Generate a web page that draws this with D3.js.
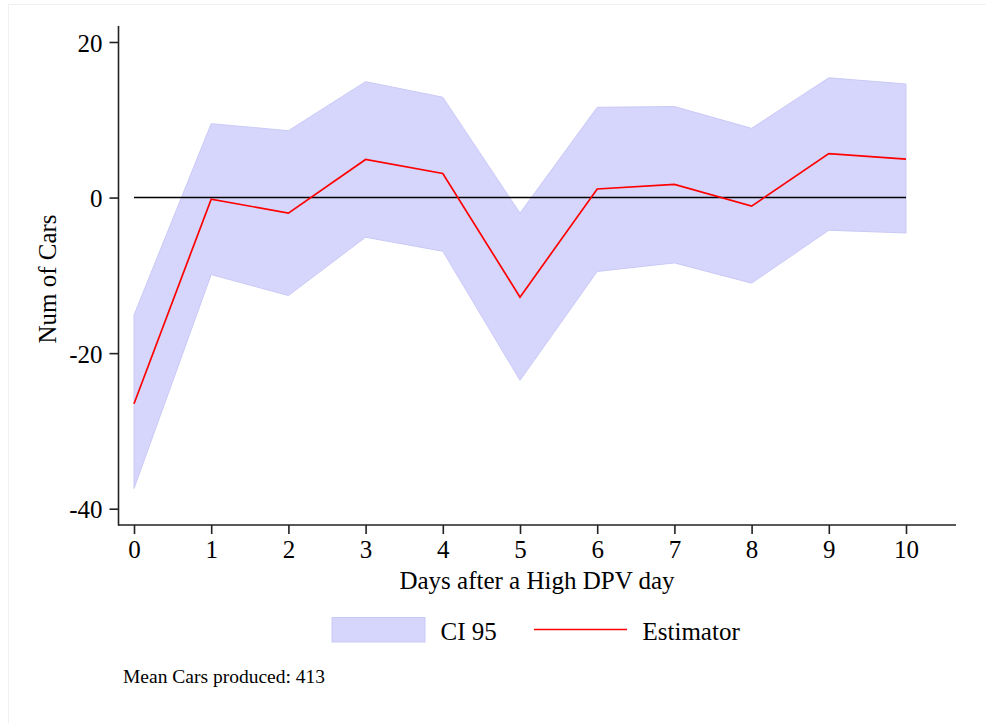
<!DOCTYPE html>
<html>
<head>
<meta charset="utf-8">
<script src="https://cdn.jsdelivr.net/npm/d3@7"></script>
<style>
  html, body { margin: 0; padding: 0; background: #fff; }
  svg text { font-family: "Liberation Serif", "Times New Roman", serif; fill: #000; }
</style>
</head>
<body>
<svg id="chart" width="986" height="723"></svg>
<script>
// Days after a high-DPV day
const days = [0, 1, 2, 3, 4, 5, 6, 7, 8, 9, 10];
// Point estimate and 95% confidence bounds (number of cars)
const estimator = [-26.5, -0.2, -2.0, 4.9, 3.1, -12.8, 1.1, 1.7, -1.1, 5.65, 4.95];
const ciUpper   = [-15.1, 9.5, 8.6, 14.9, 12.9, -2.0, 11.6, 11.7, 8.9, 15.4, 14.6];
const ciLower   = [-37.4, -9.9, -12.6, -5.1, -6.9, -23.5, -9.5, -8.4, -11.0, -4.2, -4.55];
const yTicks = [-40, -20, 0, 20];
const legendLabels = ["CI 95", "Estimator"];
const noteText = "Mean Cars produced: 413";

const svg = d3.select("#chart");
const fillColor = "#d6d6fc";
const edgeColor = "#c9c9f7";

// integer labels with a plain hyphen for negatives
const intLabel = d => String(Math.round(d));

// faint outer frame
svg.append("rect")
  .attr("x", 8.5).attr("y", 4.5).attr("width", 990).attr("height", 730)
  .attr("fill", "none").attr("stroke", "#f1f1f1").attr("stroke-width", 1);

const x = d3.scaleLinear().domain([0, 10]).range([134, 906]);
const y = d3.scaleLinear().domain([-40, 20]).range([508.7, 42]);

const rows = days.map((d, i) => ({ d, est: estimator[i], lo: ciLower[i], hi: ciUpper[i] }));

// confidence band
svg.append("path")
  .datum(rows)
  .attr("d", d3.area().x(r => x(r.d)).y0(r => y(r.lo)).y1(r => y(r.hi)))
  .attr("fill", fillColor)
  .attr("stroke", edgeColor)
  .attr("stroke-width", 1);

// zero reference line
svg.append("line")
  .attr("x1", x(0)).attr("x2", x(10))
  .attr("y1", y(0)).attr("y2", y(0))
  .attr("stroke", "#000").attr("stroke-width", 1.6);

// estimator line
svg.append("path")
  .datum(rows)
  .attr("d", d3.line().x(r => x(r.d)).y(r => y(r.est)))
  .attr("fill", "none")
  .attr("stroke", "#ff0000")
  .attr("stroke-width", 1.7)
  .attr("stroke-linejoin", "miter");

// y axis
const yAxis = svg.append("g")
  .attr("transform", "translate(118.5,0)")
  .call(d3.axisLeft(y).tickValues(yTicks).tickSize(9).tickPadding(7).tickFormat(intLabel));
yAxis.select(".domain").attr("d", "M0,26V525.5").attr("stroke", "#222").attr("stroke-width", 1.6);
yAxis.selectAll(".tick line").attr("stroke", "#222").attr("stroke-width", 1.6);
yAxis.selectAll(".tick text").attr("font-size", 25).attr("dy", "0.36em")
  .style("font-family", "'Liberation Serif', serif");

// x axis
const xAxis = svg.append("g")
  .attr("transform", "translate(0,525)")
  .call(d3.axisBottom(x).tickValues(days).tickSize(9).tickPadding(6).tickFormat(intLabel));
xAxis.select(".domain").attr("d", "M118,0H956").attr("stroke", "#222").attr("stroke-width", 1.6);
xAxis.selectAll(".tick line").attr("stroke", "#222").attr("stroke-width", 1.6);
xAxis.selectAll(".tick text").attr("font-size", 25).attr("dy", "0.71em")
  .style("font-family", "'Liberation Serif', serif");

// axis titles
svg.append("text")
  .attr("x", 537).attr("y", 588.5)
  .attr("text-anchor", "middle").attr("font-size", 25)
  .text("Days after a High DPV day");

svg.append("text")
  .attr("transform", "translate(56,279) rotate(-90)")
  .attr("text-anchor", "middle").attr("font-size", 25)
  .text("Num of Cars");

// legend
const legend = svg.append("g");
legend.append("rect")
  .attr("x", 332).attr("y", 617.5).attr("width", 93).attr("height", 24.5)
  .attr("fill", fillColor).attr("stroke", edgeColor).attr("stroke-width", 1);
legend.append("text")
  .attr("x", 440.5).attr("y", 639.5).attr("font-size", 25)
  .text(legendLabels[0]);
legend.append("line")
  .attr("x1", 534).attr("x2", 627).attr("y1", 629.5).attr("y2", 629.5)
  .attr("stroke", "#ff0000").attr("stroke-width", 1.7);
legend.append("text")
  .attr("x", 642.5).attr("y", 639.5).attr("font-size", 25)
  .text(legendLabels[1]);

// note
svg.append("text")
  .attr("x", 123).attr("y", 683).attr("font-size", 19.5)
  .text(noteText);
</script>
</body>
</html>
